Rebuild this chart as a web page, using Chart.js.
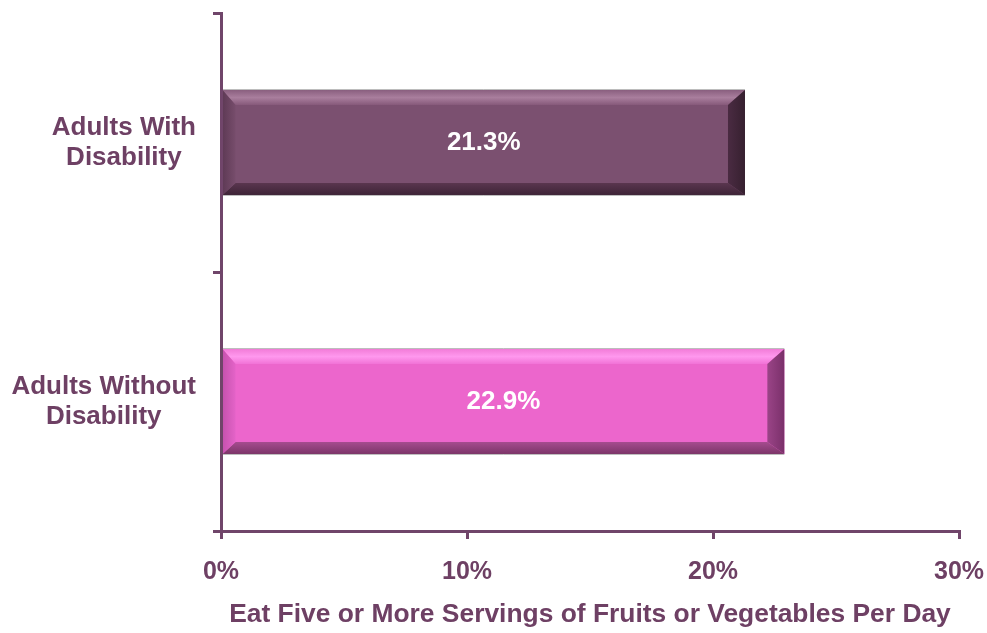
<!DOCTYPE html>
<html><head><meta charset="utf-8">
<script src="https://cdn.jsdelivr.net/npm/chart.js@4"></script>
<style>html,body{margin:0;padding:0;background:#fff;} canvas{display:block;}</style>
</head><body>
<canvas id="c" width="987" height="633"></canvas>
<script>
// ---- data ----
const categories = [["Adults With", "Disability"], ["Adults Without", "Disability"]];
const values = [21.3, 22.9];
const xTickValues = [0, 10, 20, 30];
const axisTitle = "Eat Five or More Servings of Fruits or Vegetables Per Day";

// ---- styles ----
const TEXT = '#6E4064';
const AXIS = '#70456A';
const FACE = ['#7B5070', '#EC66CC'];
const BEVEL = [
  {top: ['#8A5F7F', '#A97E9D', '#86597A'], left: ['#5E3A55', '#774D6C'], right: ['#4A2B42', '#36202F'], bottom: ['#5A364F', '#3E2437']},
  {top: ['#F27CD8', '#FF98EE', '#F172D6'], left: ['#C552AE', '#E463C8'], right: ['#9A4487', '#7A306A'], bottom: ['#A64C8F', '#7C3569']}
];
const FONT = '"Liberation Sans", Arial, sans-serif';

function poly(ctx, pts, fill) {
  ctx.beginPath();
  ctx.moveTo(pts[0][0], pts[0][1]);
  for (let i = 1; i < pts.length; i++) ctx.lineTo(pts[i][0], pts[i][1]);
  ctx.closePath();
  ctx.fillStyle = fill;
  ctx.fill();
}
function grad(ctx, xa, ya, xb, yb, cols) {
  const g = ctx.createLinearGradient(xa, ya, xb, yb);
  cols.forEach((c, i) => g.addColorStop(i / (cols.length - 1), c));
  return g;
}

const bevelPlugin = {
  id: 'bevel',
  afterDatasetsDraw(chart) {
    const ctx = chart.ctx;
    const meta = chart.getDatasetMeta(0);
    ctx.save();
    meta.data.forEach((bar, i) => {
      const p = bar.getProps(['x', 'y', 'base', 'height'], true);
      const x0 = Math.min(p.base, p.x), x1 = Math.max(p.base, p.x);
      const y0 = p.y - p.height / 2, y1 = p.y + p.height / 2;
      const bt = 15, br = 17, bb = 12, bl = 13;
      const c = BEVEL[i];
      poly(ctx, [[x0, y0], [x1, y0], [x1 - br, y0 + bt], [x0 + bl, y0 + bt]], grad(ctx, 0, y0, 0, y0 + bt, c.top));
      poly(ctx, [[x0, y1], [x1, y1], [x1 - br, y1 - bb], [x0 + bl, y1 - bb]], grad(ctx, 0, y1 - bb, 0, y1, c.bottom));
      poly(ctx, [[x0, y0], [x0 + bl, y0 + bt], [x0 + bl, y1 - bb], [x0, y1]], grad(ctx, x0, 0, x0 + bl, 0, c.left));
      poly(ctx, [[x1, y0], [x1, y1], [x1 - br, y1 - bb], [x1 - br, y0 + bt]], grad(ctx, x1 - br, 0, x1, 0, c.right));
      ctx.strokeStyle = 'rgba(130,130,130,0.55)';
      ctx.lineWidth = 1;
      ctx.beginPath(); ctx.moveTo(x0, y0 - 0.5); ctx.lineTo(x1, y0 - 0.5); ctx.stroke();
      ctx.beginPath(); ctx.moveTo(x0, y1 + 0.5); ctx.lineTo(x1, y1 + 0.5); ctx.stroke();
      // value label
      ctx.fillStyle = '#FFFFFF';
      ctx.font = 'bold 26px ' + FONT;
      ctx.textAlign = 'center';
      ctx.textBaseline = 'middle';
      ctx.fillText(values[i].toFixed(1) + '%', (x0 + x1) / 2, p.y);
    });
    ctx.restore();
  }
};

const catLabelPlugin = {
  id: 'catLabels',
  afterDraw(chart) {
    const ys = chart.scales.y;
    const ctx = chart.ctx;
    ctx.save();
    ctx.font = 'bold 26px ' + FONT;
    ctx.fillStyle = TEXT;
    ctx.textAlign = 'center';
    ctx.textBaseline = 'middle';
    const right = ys.right - 25;
    const lh = 30;
    categories.forEach((lines, i) => {
      const yc = ys.getPixelForValue(i);
      const w = Math.max(...lines.map(l => ctx.measureText(l).width));
      const cx = right - w / 2;
      lines.forEach((l, k) => ctx.fillText(l, cx, yc + (k - (lines.length - 1) / 2) * lh));
    });
    ctx.restore();
  }
};

new Chart(document.getElementById('c'), {
  type: 'bar',
  data: {
    labels: categories,
    datasets: [{
      data: values,
      backgroundColor: FACE,
      borderWidth: 0,
      barPercentage: 0.405,
      categoryPercentage: 1
    }]
  },
  options: {
    indexAxis: 'y',
    responsive: false,
    animation: false,
    layout: {padding: {top: 13, right: 28, left: 0, bottom: 0}},
    plugins: {legend: {display: false}, tooltip: {enabled: false}},
    scales: {
      x: {
        type: 'linear', min: 0, max: 30,
        afterBuildTicks(s) { s.ticks = xTickValues.map(v => ({value: v})); },
        ticks: {
          callback: v => v + '%', color: TEXT,
          font: {family: FONT, size: 25, weight: 'bold'}, padding: 18, maxRotation: 0
        },
        grid: {drawOnChartArea: false, drawTicks: true, tickLength: 8, color: AXIS, lineWidth: 3},
        border: {color: AXIS, width: 3, z: 1},
        title: {
          display: true, text: axisTitle, color: TEXT,
          font: {family: FONT, size: 26.4, weight: 'bold'}, padding: {top: 0, bottom: 2}
        },
        afterFit(s) { s.height = 102; s.paddingLeft = 0; s.paddingRight = 0; }
      },
      y: {
        type: 'category',
        ticks: {display: false},
        grid: {offset: true, drawOnChartArea: false, drawTicks: true, tickLength: 8, color: AXIS, lineWidth: 3},
        border: {color: AXIS, width: 3, z: 1},
        afterFit(s) { s.width = 221; s.paddingTop = 0; s.paddingBottom = 0; }
      }
    }
  },
  plugins: [bevelPlugin, catLabelPlugin]
});
</script>
</body></html>
